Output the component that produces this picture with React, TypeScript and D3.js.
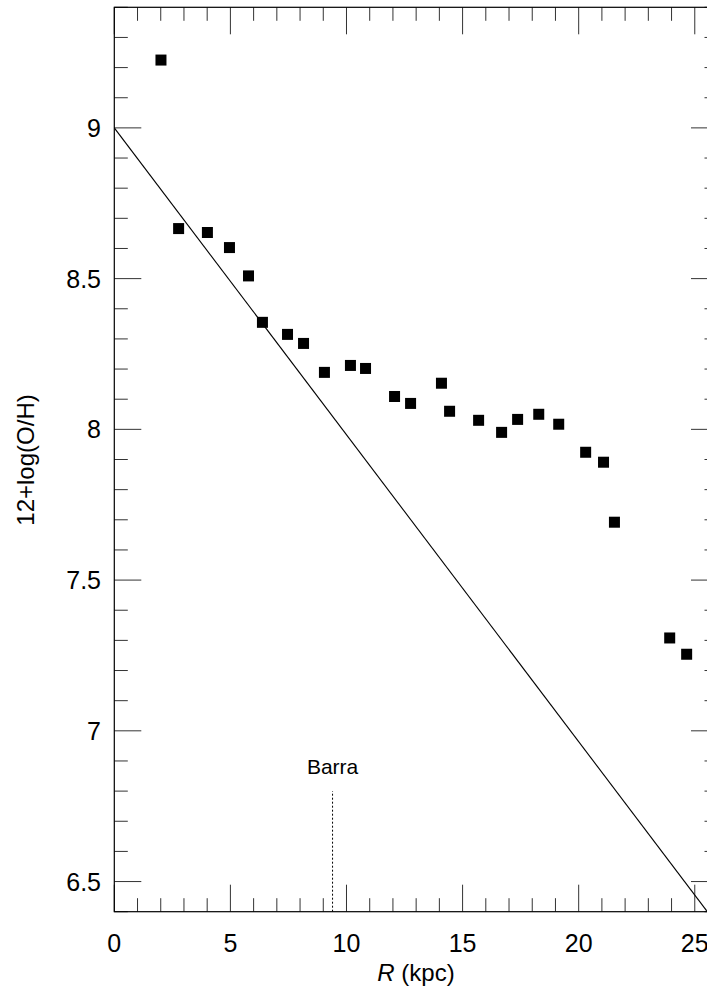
import React from "react";
import * as d3 from "d3";

const radius = [2.01, 2.77, 4.01, 4.96, 5.78, 6.38, 7.46, 8.15, 9.05, 10.17, 10.82, 12.07, 12.76, 14.09, 14.44, 15.69, 16.68, 17.37, 18.28, 19.14, 20.3, 21.07, 21.54, 23.92, 24.65];
const abundance = [9.225, 8.666, 8.653, 8.603, 8.509, 8.355, 8.315, 8.285, 8.189, 8.212, 8.202, 8.109, 8.086, 8.153, 8.06, 8.03, 7.99, 8.033, 8.05, 8.017, 7.924, 7.891, 7.692, 7.308, 7.254];
const fitIntercept = 9.0;
const fitSlope = -0.1018;
const barX = 9.4;
const barTop = 6.8;
const xMajor = [0, 5, 10, 15, 20, 25];
const yMajor = [6.5, 7, 7.5, 8, 8.5, 9];

const W = 707, H = 994;
const L = 114.3, R = 718, T = 7.3, B = 911.7;

export default function App() {
  const x = d3.scaleLinear().domain([0, 26]).range([L, R]);
  const y = d3.scaleLinear().domain([6.4, 9.4]).range([B, T]);
  const xMinor = d3.range(0, 27, 1).filter((v) => v % 5 !== 0);
  const yMinor = d3.range(64, 95, 1).map((v) => v / 10).filter((v) => Math.round(v * 10) % 5 !== 0);
  const xEnd = (6.4 - fitIntercept) / fitSlope;
  const line = d3.line<[number, number]>().x((d) => x(d[0])).y((d) => y(d[1]));
  const fit: [number, number][] = [[0, fitIntercept], [xEnd, fitIntercept + fitSlope * xEnd]];
  const font = "'Liberation Sans', Arial, Helvetica, sans-serif";
  const tc = "#333";
  return (
    <div style={{ position: "absolute", left: 0, top: 0 }}>
      <svg width={W} height={H} style={{ display: "block", background: "#fff" }} fontFamily={font}>
        <defs>
          <clipPath id="plot">
            <rect x={L} y={T} width={R - L} height={B - T} />
          </clipPath>
        </defs>
        {xMajor.map((v) => (
          <g key={"xm" + v}>
            <line x1={x(v)} x2={x(v)} y1={B} y2={B - 27} stroke={tc} strokeWidth={1} />
            <line x1={x(v)} x2={x(v)} y1={T} y2={T + 27} stroke={tc} strokeWidth={1} />
          </g>
        ))}
        {xMinor.map((v) => (
          <g key={"xn" + v}>
            <line x1={x(v)} x2={x(v)} y1={B} y2={B - 13.5} stroke={tc} strokeWidth={1} />
            <line x1={x(v)} x2={x(v)} y1={T} y2={T + 13.5} stroke={tc} strokeWidth={1} />
          </g>
        ))}
        {yMajor.map((v) => (
          <g key={"ym" + v}>
            <line x1={L} x2={L + 27} y1={y(v)} y2={y(v)} stroke={tc} strokeWidth={1} />
            <line x1={R} x2={R - 27} y1={y(v)} y2={y(v)} stroke={tc} strokeWidth={1} />
          </g>
        ))}
        {yMinor.map((v) => (
          <g key={"yn" + v}>
            <line x1={L} x2={L + 13.5} y1={y(v)} y2={y(v)} stroke={tc} strokeWidth={1} />
            <line x1={R} x2={R - 13.5} y1={y(v)} y2={y(v)} stroke={tc} strokeWidth={1} />
          </g>
        ))}
        <rect x={L} y={T} width={R - L} height={B - T} fill="none" stroke="#000" strokeWidth={1.2} />
        {xMajor.map((v) => (
          <text key={"xl" + v} x={x(v)} y={952} textAnchor="middle" fontSize={25} fill="#000">
            {v}
          </text>
        ))}
        {yMajor.map((v) => (
          <text key={"yl" + v} x={101} y={y(v) + 9} textAnchor="end" fontSize={25} fill="#000">
            {v}
          </text>
        ))}
        <text x={416} y={981} textAnchor="middle" fontSize={24} fill="#000">
          <tspan fontStyle="italic">R</tspan> (kpc)
        </text>
        <text transform={`translate(34,460) rotate(-90)`} textAnchor="middle" fontSize={24} fill="#000">
          12+log(O/H)
        </text>
        <g clipPath="url(#plot)">
          <path d={line(fit) || ""} fill="none" stroke="#000" strokeWidth={1.1} />
        </g>
        <line x1={x(barX)} x2={x(barX)} y1={y(6.4)} y2={y(barTop)} stroke="#000" strokeWidth={1} strokeDasharray="2,2" />
        <text x={x(barX)} y={774} textAnchor="middle" fontSize={21} fill="#000">
          Barra
        </text>
        {radius.map((r, i) => (
          <rect key={"p" + i} x={x(r) - 5.5} y={y(abundance[i]) - 5.5} width={11} height={11} fill="#000" />
        ))}
      </svg>
    </div>
  );
}
